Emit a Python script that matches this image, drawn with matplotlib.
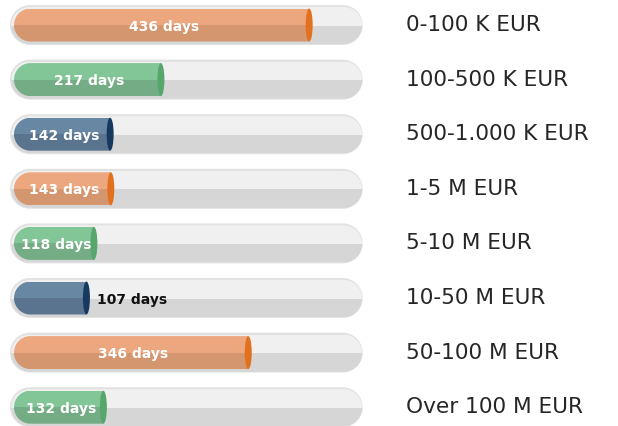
"""Pill-shaped progress bars: average days per amount bracket."""

import matplotlib

matplotlib.use("Agg")
import numpy as np
import matplotlib.pyplot as plt
from matplotlib.patches import Ellipse, PathPatch, Rectangle
from matplotlib.path import Path

brackets = [
    "0-100 K EUR",
    "100-500 K EUR",
    "500-1.000 K EUR",
    "1-5 M EUR",
    "5-10 M EUR",
    "10-50 M EUR",
    "50-100 M EUR",
    "Over 100 M EUR",
]
days = [436, 217, 142, 143, 118, 107, 346, 132]
track_max = 515

# (top half, bottom half, end cap)
palette = {
    "orange": ("#eca77f", "#d4966f", "#e2711f"),
    "green": ("#82c697", "#74ad85", "#57a76d"),
    "blue": ("#6787a3", "#5a748f", "#17395f"),
}
colour_cycle = ["orange", "green", "blue"]

W, H = 618, 426
PX_X = 0.677  # pixels per day
PX_Y = 54.6  # pixels per row
X0_PX, Y0_PX = 14, 25

fig = plt.figure(figsize=(W / 100, H / 100), dpi=100)
ax = fig.add_axes([0, 0, 1, 1])
ax.set_xlim(-X0_PX / PX_X, (W - X0_PX) / PX_X)
ax.set_ylim((H - Y0_PX) / PX_Y, -Y0_PX / PX_Y)
ax.axis("off")


def pill(x0, x1, yc, h_px, **kw):
    """Stadium shape in data coords, corners round in pixel space."""
    rx = (h_px / 2) / PX_X
    ry = (h_px / 2) / PX_Y
    t_left = np.linspace(np.pi / 2, 3 * np.pi / 2, 40)
    t_right = np.linspace(-np.pi / 2, np.pi / 2, 40)
    xs = np.concatenate([x0 + rx + rx * np.cos(t_left), x1 - rx + rx * np.cos(t_right)])
    ys = np.concatenate([yc - ry * np.sin(t_left), yc - ry * np.sin(t_right)])
    verts = np.column_stack([np.append(xs, xs[0]), np.append(ys, ys[0])])
    codes = [Path.MOVETO] + [Path.LINETO] * (len(xs) - 1) + [Path.CLOSEPOLY]
    return PathPatch(Path(verts, codes), **kw)


def two_tone(x0, x1, yc, h_px, top, bottom, clip):
    h = h_px / PX_Y
    for y, c in ((yc - h / 2, top), (yc, bottom)):
        rect = Rectangle((x0, y), x1 - x0, h / 2, color=c, lw=0, zorder=clip.get_zorder())
        ax.add_patch(rect)
        rect.set_clip_path(clip)


for i, (label, value) in enumerate(zip(brackets, days)):
    top, bottom, cap = palette[colour_cycle[i % 3]]

    # background track
    tx0, tx1 = -4 / PX_X, track_max
    outline = pill(tx0, tx1, i, 40, fc="#e2e2e2", ec="none", zorder=1)
    ax.add_patch(outline)
    track = pill(tx0 + 1.5 / PX_X, tx1 - 0.5 / PX_X, i + 0.5 / PX_Y, 37, fc="none", ec="none", zorder=2)
    ax.add_patch(track)
    two_tone(tx0, tx1, i + 0.5 / PX_Y, 37, "#f0f0f0", "#d6d6d6", track)

    # coloured bar: rounded left end, flat right end with elliptical cap
    body = pill(0, value + 400, i, 33, fc="none", ec="none", zorder=3)
    ax.add_patch(body)
    two_tone(0, value, i, 33, top, bottom, body)
    ax.add_patch(Ellipse((value, i), 7 / PX_X, 33 / PX_Y, color=cap, lw=0, zorder=4))

    text = f"{value} days"
    if value < 110:
        ax.text(value + 11 / PX_X, i + 0.03, text, ha="left", va="center",
                fontsize=10, fontweight="bold", color="#111111", family="DejaVu Sans", zorder=5)
    else:
        ax.text(value / 2 + 3, i + 0.03, text, ha="center", va="center",
                fontsize=10, fontweight="bold", color="white", family="DejaVu Sans", zorder=5)

    ax.text(392 / PX_X, i, label, ha="left", va="center",
            fontsize=15.6, color="#262626", family="DejaVu Sans")

fig.savefig("out.png", dpi=100)
